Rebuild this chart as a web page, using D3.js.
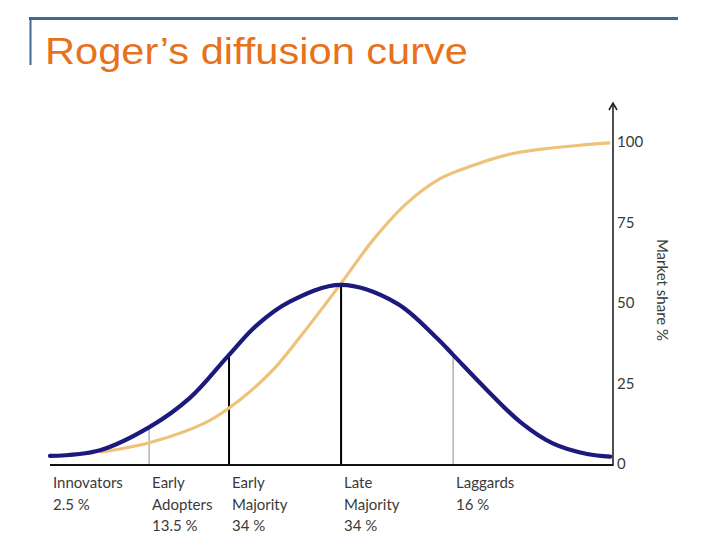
<!DOCTYPE html>
<html>
<head>
<meta charset="utf-8">
<script src="https://cdn.jsdelivr.net/npm/d3@7"></script>
<style>
  body { margin: 0; background: #fff; }
  svg { display: block; }
  .tick-label, .cat-label, .axis-title { font-family: Lato, "Open Sans", sans-serif; fill: #3a3a3a; font-size: 15px; }
</style>
</head>
<body>
<svg width="720" height="540"></svg>
<script>
// time axis is 0..100 across the plot, values are percent
const timeBell = [0, 8.9, 17.8, 24.9, 31.6, 36.8, 42.6, 51.7, 61.6, 68.7, 71.6, 77.6, 83.5, 89.3, 95.4, 99.5];
const adopters = [2.5, 4.3, 11.6, 20.6, 33.5, 43.2, 50.4, 55.6, 49.9, 39.1, 33.9, 23, 13.1, 6.4, 3.1, 2.3];

const timeShare = [8.9, 17.8, 27.9, 33.7, 39.6, 45.6, 51.7, 57.4, 63.4, 69.3, 75.1, 81.2, 87, 94.1, 99.5];
const marketShare = [3.7, 6.7, 13.1, 19.9, 29.2, 42.1, 56.1, 69.6, 81, 88.6, 92.7, 96, 97.7, 99, 99.7];

const categoryStart = [0, 17.6, 31.8, 51.7, 71.6];
const categoryLines = [
  ["Innovators", "2.5 %"],
  ["Early", "Adopters", "13.5 %"],
  ["Early", "Majority", "34 %"],
  ["Late", "Majority", "34 %"],
  ["Laggards", "16 %"]
];
const dividerX = [17.6, 31.8, 51.7, 71.6];
const dividerTop = [11.3, 33.5, 55.6, 33.9];
const dividerBold = [false, true, true, false];

const yTicks = [0, 25, 50, 75, 100];

const svg = d3.select("svg");

// slide frame + title
svg.append("line")
    .attr("x1", 29).attr("x2", 678).attr("y1", 18.5).attr("y2", 18.5)
    .attr("stroke", "#41698f").attr("stroke-width", 3);
svg.append("line")
    .attr("x1", 30.5).attr("x2", 30.5).attr("y1", 17).attr("y2", 65)
    .attr("stroke", "#41698f").attr("stroke-width", 2);
svg.append("text")
    .attr("x", 45).attr("y", 64)
    .attr("textLength", 423).attr("lengthAdjust", "spacingAndGlyphs")
    .style("font-family", "'Liberation Sans', Arial, sans-serif")
    .style("font-size", "36px")
    .style("fill", "#e8711c")
    .text("Roger\u2019s diffusion curve");

const x = d3.scaleLinear().domain([0, 100]).range([50, 613]);
const y = d3.scaleLinear().domain([0, 100]).range([464, 142]);

const line = d3.line()
    .curve(d3.curveCatmullRom.alpha(0.5))
    .x(d => x(d[0]))
    .y(d => y(d[1]));

// dividers between adopter groups
svg.selectAll(".divider")
    .data(dividerX)
    .enter()
    .append("line")
    .attr("class", "divider")
    .attr("x1", d => x(d)).attr("x2", d => x(d))
    .attr("y1", y(0)).attr("y2", (d, i) => y(dividerTop[i]))
    .attr("stroke", (d, i) => dividerBold[i] ? "#000" : "#8a8a8a")
    .attr("stroke-width", (d, i) => dividerBold[i] ? 2 : 1);

// cumulative market share
svg.append("path")
    .datum(timeShare.map((t, i) => [t, marketShare[i]]))
    .attr("fill", "none")
    .attr("stroke", "#efc27a")
    .attr("stroke-width", 3.2)
    .attr("d", line);

// adopters per period
svg.append("path")
    .datum(timeBell.map((t, i) => [t, adopters[i]]))
    .attr("fill", "none")
    .attr("stroke", "#1c1a7c")
    .attr("stroke-width", 4.2)
    .attr("stroke-linecap", "round")
    .attr("d", line);

// baseline
svg.append("line")
    .attr("x1", x(0)).attr("x2", x(100)).attr("y1", 465).attr("y2", 465)
    .attr("stroke", "#111").attr("stroke-width", 2);

// right axis with arrow
svg.append("line")
    .attr("x1", x(100)).attr("x2", x(100)).attr("y1", 466).attr("y2", 104)
    .attr("stroke", "#222").attr("stroke-width", 1.6);
svg.append("path")
    .attr("d", `M${x(100) - 4},${110} L${x(100)},${103} L${x(100) + 4},${110}`)
    .attr("fill", "none").attr("stroke", "#222").attr("stroke-width", 1.6);

svg.selectAll(".tick-label")
    .data(yTicks)
    .enter()
    .append("text")
    .attr("class", "tick-label")
    .attr("x", x(100) + 4)
    .attr("y", d => y(d))
    .attr("dy", "0.35em")
    .text(d => d);

svg.append("text")
    .attr("class", "axis-title")
    .attr("transform", `translate(657,290) rotate(90)`)
    .attr("text-anchor", "middle")
    .text("Market share %");

// group labels under the baseline
const cats = svg.selectAll(".cat")
    .data(categoryLines)
    .enter()
    .append("text")
    .attr("class", "cat-label")
    .attr("x", (d, i) => x(categoryStart[i]) + 3)
    .attr("y", 488);

cats.selectAll("tspan")
    .data(d => d)
    .enter()
    .append("tspan")
    .attr("x", function() { return this.parentNode.getAttribute("x"); })
    .attr("dy", (d, i) => i === 0 ? 0 : 21.5)
    .text(d => d);
</script>
</body>
</html>
